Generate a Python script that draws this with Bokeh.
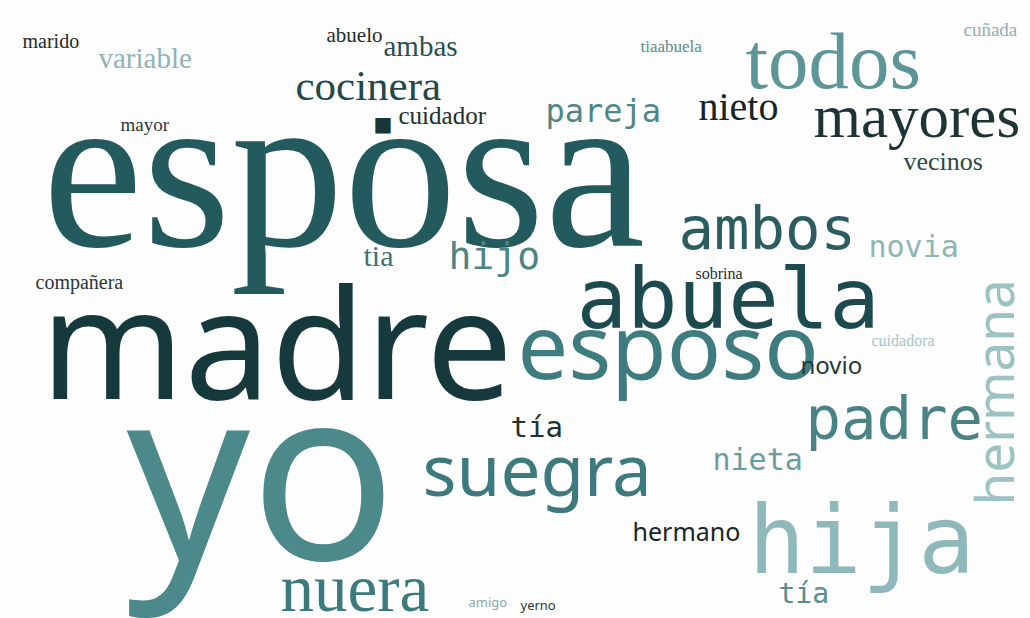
from bokeh.plotting import figure
from bokeh.models import ColumnDataSource, Range1d
from bokeh.embed import file_html
from bokeh.resources import INLINE
import math

# ---- word-cloud data (word, weight) ----
words = ["esposa", "madre", "yo", "marido", "variable", "abuelo", "ambas", "cocinera", "\u25a0",
         "cuidador", "mayor", "tiaabuela", "todos", "cuñada", "pareja", "nieto", "mayores",
         "vecinos", "compañera", "tia", "hijo", "ambos", "novia", "sobrina", "abuela",
         "cuidadora", "esposo", "novio", "hermana", "padre", "tía", "suegra",
         "nieta", "hermano", "hija", "tía", "nuera", "amigo", "yerno"]
weights = [226, 154, 242, 20, 29, 21, 29, 43, 20,
           25, 19, 17, 81, 19, 32, 40, 61,
           26, 20, 30, 38, 59, 30, 16, 84,
           16, 90, 24, 53, 59, 29, 71,
           30, 25, 94, 28, 67, 13, 13]

# ---- layout of the cloud (left x, baseline y in page pixels) ----
x_pos = [42, 40, 126, 22, 98, 326, 383, 295, 373,
         398, 120, 640, 745, 963, 545, 698, 813,
         903, 35, 363, 448, 678, 868, 695, 576,
         871, 517, 800, 1013, 805, 510, 422,
         712, 632, 748, 778, 280, 468, 520]
y_base = [246, 397, 557, 47, 67, 42, 55, 100, 131,
          123, 130, 52, 88, 35, 122, 120, 137,
          170, 288, 265, 270, 250, 257, 278, 330,
          345, 378, 373, 505, 440, 437, 495,
          470, 540, 575, 603, 610, 606, 609]

SERIF, MONO, SANS, SYM = "Liberation Serif", "DejaVu Sans Mono", "Noto Sans", "DejaVu Sans"
fonts = [SERIF, SANS, SANS, SERIF, SERIF, SERIF, SERIF, SERIF, SYM,
         SERIF, SERIF, SERIF, SERIF, SERIF, MONO, SERIF, SERIF,
         SERIF, SERIF, SERIF, MONO, MONO, MONO, SERIF, MONO,
         SERIF, SANS, SANS, SANS, MONO, MONO, SANS,
         MONO, SANS, MONO, MONO, SERIF, SANS, SANS]
colors = ["#235a5d", "#163a3c", "#4b898b", "#1d2b2b", "#8eb4b4", "#1d2a2a", "#2b4f50", "#23484a", "#1a3535",
          "#1f2f2f", "#2a3838", "#5f8a8a", "#5e9698", "#8db0b0", "#4f8585", "#172424", "#1e3334",
          "#2e4747", "#283636", "#3f7272", "#4d8585", "#2b5d60", "#8db5b5", "#222d2d", "#1c4a4e",
          "#a8c4c4", "#3f7c7f", "#243838", "#9cc2c2", "#4a8385", "#1d3434", "#3d7a7d",
          "#6c9c9e", "#1a2424", "#8fb8ba", "#5a8e8e", "#3d7a7c", "#8aa8a8", "#2a3838"]
vertical = ["hermana"]

# the renderer places the alphabetic baseline a fraction of an em lower; compensate
baseline_fix = {SERIF: 0.34, SANS: 0.38, MONO: 0.37, SYM: 0.36}

xs, ys, angles = [], [], []
for w, x, y, s, f in zip(words, x_pos, y_base, weights, fonts):
    d = baseline_fix[f] * s
    if w in vertical:
        xs.append(x - d); ys.append(y); angles.append(math.pi / 2)
    else:
        xs.append(x); ys.append(y - d); angles.append(0.0)

source = ColumnDataSource(dict(
    text=words, x=xs, y=ys,
    size=[f"{s}px" for s in weights],
    font=fonts, color=colors, angle=angles,
))

p = figure(width=1030, height=618, output_backend="svg", toolbar_location=None,
           x_range=Range1d(0, 1030), y_range=Range1d(618, 0),
           min_border=0, background_fill_color="#fdfdfd", border_fill_color="#fdfdfd")
p.axis.visible = False
p.grid.visible = False
p.outline_line_color = None

p.text(x="x", y="y", text="text", source=source,
       text_font="font", text_font_size="size", text_color="color",
       angle="angle", text_align="left", text_baseline="alphabetic")

open("out.html", "w").write(file_html(p, INLINE))
